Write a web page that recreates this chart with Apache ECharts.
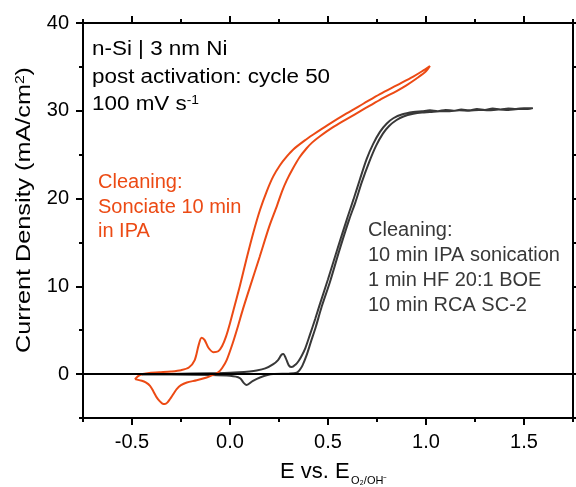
<!DOCTYPE html>
<html>
<head>
<meta charset="utf-8">
<script src="https://cdn.jsdelivr.net/npm/echarts@6/dist/echarts.min.js"></script>
<style>
  html, body { margin: 0; padding: 0; background: #ffffff; }
  #chart { width: 576px; height: 487px; }
</style>
</head>
<body>
<div id="chart"></div>
<script>
// ---- data ----
var orangeE = [-0.485,-0.46,-0.42,-0.36,-0.30,-0.25,-0.21,-0.18,-0.16,-0.145,-0.13,-0.11,-0.085,-0.06,-0.04,-0.02,0.0,0.025,0.05,0.085,0.12,0.153,0.187,0.22,0.255,0.29,0.323,0.38,0.425,0.5,0.595,0.68,0.765,0.85,0.935,0.98,1.02,
  1.0,0.95,0.9,0.85,0.765,0.68,0.595,0.52,0.459,0.42,0.39,0.355,0.323,0.29,0.265,0.24,0.2,0.152,0.1,0.066,0.04,0.015,-0.017,-0.04,-0.06,-0.09,-0.119,-0.17,-0.22,-0.25,-0.272,-0.29,-0.306,-0.32,-0.332,-0.345,-0.36,-0.374,-0.39,-0.408,-0.43,-0.45,-0.485];
var orangeJ = [-0.57,-0.1,0.1,0.2,0.3,0.45,0.75,1.6,3.3,4.15,3.9,3.0,2.5,2.6,3.2,4.3,5.8,7.9,10.0,13.2,16.2,18.7,20.8,22.5,23.8,24.8,25.6,26.6,27.3,28.4,29.7,30.8,31.9,32.9,33.9,34.5,35.1,
  34.5,33.65,32.9,32.25,31.25,30.15,29.05,28.05,27.1,26.4,25.7,24.7,23.5,22.1,20.8,19.2,16.8,13.4,9.8,7.4,5.4,3.6,1.6,0.7,0.2,-0.12,-0.38,-0.7,-0.95,-1.25,-1.7,-2.3,-2.84,-3.25,-3.41,-3.35,-3.05,-2.65,-2.0,-1.33,-0.95,-0.76,-0.57];

var grayE = [-0.45,-0.3,-0.1,0.0,0.1,0.136,0.18,0.221,0.245,0.262,0.272,0.285,0.3,0.315,0.335,0.35,0.366,0.385,0.408,0.435,0.459,0.5,0.55,0.6,0.63,0.663,0.697,0.73,0.765,0.8,0.833,0.88,0.935,0.98,1.02,1.06,1.1,1.14,1.18,1.22,1.26,1.3,1.34,1.38,1.42,1.46,1.5,1.545,
  1.52,1.47,1.42,1.37,1.32,1.27,1.22,1.17,1.12,1.07,1.02,0.98,0.935,0.885,0.85,0.813,0.78,0.745,0.709,0.673,0.64,0.608,0.558,0.51,0.468,0.438,0.413,0.39,0.37,0.355,0.34,0.3,0.22,0.153,0.115,0.085,0.07,0.05,0.0,-0.1,-0.3,-0.45];
var grayJ = [0.0,0.02,0.1,0.15,0.3,0.4,0.65,1.14,1.6,2.2,2.3,1.8,1.0,0.8,1.1,1.5,2.1,3.0,4.5,6.3,8.0,10.8,14.4,17.9,19.9,22.2,24.5,26.2,27.6,28.55,29.15,29.6,29.85,29.95,30.05,29.95,30.1,30.0,30.15,30.05,30.2,30.1,30.25,30.15,30.25,30.2,30.3,30.3,
  30.2,30.2,30.1,30.15,30.05,30.1,30.0,30.05,29.95,29.95,29.85,29.8,29.65,29.35,28.95,28.3,27.4,26.0,24.1,21.9,19.6,17.6,14.1,10.5,7.7,5.4,3.7,2.1,1.0,0.45,0.15,0.05,0.0,-0.38,-0.8,-1.25,-1.0,-0.45,-0.2,-0.1,-0.05,-0.05];

var xMajorTicks = [-0.5, 0, 0.5, 1.0, 1.5];
var yMajorTicks = [0, 10, 20, 30, 40];

// ---- build ----
function zip(a, b) { return a.map(function (v, i) { return [v, b[i]]; }); }
function isMajor(list, v) { return list.some(function (t) { return Math.abs(t - v) < 1e-6; }); }

var FONT = 'Liberation Sans, Arial, sans-serif';
var ORANGE = '#ec4a14';
var GRAY = '#383838';

function xAx(pos, major) {
  return {
    type: 'value', position: pos, min: -0.75, max: 1.75, interval: 0.25,
    axisLine: { show: !major, onZero: false, lineStyle: { color: '#000', width: 2 } },
    axisTick: major
      ? { show: true, inside: false, length: 7, customValues: xMajorTicks, lineStyle: { color: '#000', width: 2 } }
      : { show: true, inside: false, length: 4, lineStyle: { color: '#000', width: 2 } },
    axisLabel: (pos === 'bottom' && !major) ? {
      show: true, margin: 14, fontSize: 20, fontFamily: FONT, color: '#000',
      formatter: function (v) { return isMajor(xMajorTicks, v) ? v.toFixed(1) : ''; }
    } : { show: false },
    splitLine: { show: false }
  };
}
function yAx(pos, major) {
  return {
    type: 'value', position: pos, min: -5, max: 40, interval: 5,
    axisLine: { show: !major, onZero: false, lineStyle: { color: '#000', width: 2 } },
    axisTick: major
      ? { show: true, inside: false, length: 7, customValues: yMajorTicks, lineStyle: { color: '#000', width: 2 } }
      : { show: true, inside: false, length: 4, lineStyle: { color: '#000', width: 2 } },
    axisLabel: (pos === 'left' && !major) ? {
      show: true, margin: 14, fontSize: 20, fontFamily: FONT, color: '#000',
      formatter: function (v) { return isMajor(yMajorTicks, v) ? String(v) : ''; }
    } : { show: false },
    splitLine: { show: false }
  };
}

function txt(x, y, s, opts) {
  opts = opts || {};
  return {
    type: 'text', x: x, y: y, z: 100,
    rotation: opts.rotation || 0,
    scaleX: opts.scaleX || 1,
    style: {
      text: s,
      fontSize: opts.fontSize || 20,
      fontFamily: FONT,
      fill: opts.color || '#000',
      align: opts.align || 'left', textAlign: opts.align || 'left',
      verticalAlign: 'middle', textVerticalAlign: 'middle',
      rich: opts.rich
    }
  };
}

var chart = echarts.init(document.getElementById('chart'), null, { renderer: 'canvas' });
chart.setOption({
  animation: false,
  backgroundColor: '#ffffff',
  grid: { left: 83, right: 2, top: 23, bottom: 69, containLabel: false },
  xAxis: [xAx('bottom', false), xAx('bottom', true), xAx('top', false), xAx('top', true)],
  yAxis: [yAx('left', false), yAx('left', true), yAx('right', false), yAx('right', true)],
  series: [
    {
      type: 'line', name: 'IPA', xAxisIndex: 0, yAxisIndex: 0,
      data: zip(orangeE, orangeJ), showSymbol: false, smooth: 0.3,
      lineStyle: { color: ORANGE, width: 2 }, z: 3
    },
    {
      type: 'line', name: 'RCA', xAxisIndex: 0, yAxisIndex: 0,
      data: zip(grayE, grayJ), showSymbol: false, smooth: 0.3,
      lineStyle: { color: GRAY, width: 2 }, z: 2,
      markLine: {
        silent: true, symbol: ['none', 'none'], label: { show: false },
        lineStyle: { color: '#000', width: 2, type: 'solid' },
        data: [{ yAxis: 0 }]
      }
    }
  ],
  graphic: [
    txt(92, 50, 'n-Si | 3 nm Ni', { fontSize: 19.5, scaleX: 1.15 }),
    txt(92, 78, 'post activation: cycle 50', { fontSize: 19.5, scaleX: 1.15 }),
    txt(92, 105, '100 mV s{sup|-1}', { fontSize: 19.5, scaleX: 1.15,
      rich: { sup: { fontSize: 12, fontFamily: FONT, fill: '#000', color: '#000', verticalAlign: 'top' } } }),

    txt(98, 182, 'Cleaning:', { color: ORANGE }),
    txt(98, 207, 'Sonciate 10 min', { color: ORANGE }),
    txt(98, 231, 'in IPA', { color: ORANGE }),

    txt(368, 230, 'Cleaning:', { color: GRAY }),
    txt(368, 255, '10 min IPA sonication', { color: GRAY }),
    txt(368, 280, '1 min HF 20:1 BOE', { color: GRAY }),
    txt(368, 305, '10 min RCA SC-2', { color: GRAY }),

    txt(24, 210, 'Current Density (mA/cm{sup|2})', { fontSize: 21, rotation: Math.PI / 2, align: 'center', scaleX: 1.2,
      rich: { sup: { fontSize: 13, fontFamily: FONT, fill: '#000', color: '#000', verticalAlign: 'top' } } }),

    txt(280, 472, 'E vs. E', { fontSize: 22 }),
    txt(351, 481, 'O\u2082/OH\u207B', { fontSize: 11 })
  ]
});
</script>
</body>
</html>
